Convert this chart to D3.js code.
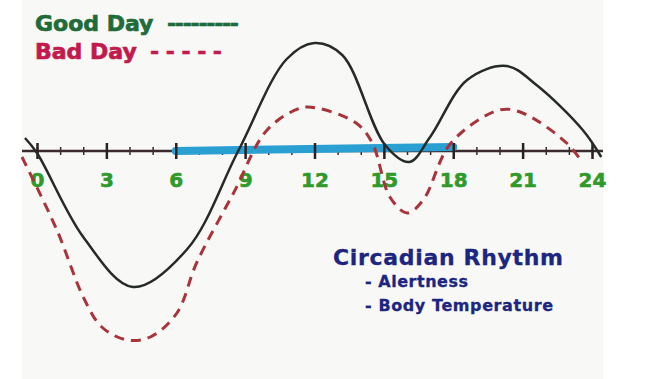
<!DOCTYPE html>
<html>
<head>
<meta charset="utf-8">
<script src="https://cdn.jsdelivr.net/npm/d3@7"></script>
<style>
  body { margin: 0; background: #fff; }
  text { font-family: "DejaVu Sans", sans-serif; font-weight: bold; }
</style>
</head>
<body>
<div id="chart"></div>
<script>
const width = 669, height = 379;

// hours of day (x) and level relative to the baseline (y)
const goodHours = [-0.52, 0, 2.0, 4.15, 6.5, 8.7, 10.8, 12.0, 13.2, 15.05, 16.1, 17.0, 18.6, 20.3, 21.6, 23.6, 24.4];
const goodLevel = [0.65, -0.1, -4.3, -6.8, -4.9, 0, 4.6, 5.4, 4.8, 0.3, -0.55, 0.7, 3.55, 4.25, 3.3, 1.05, -0.3];
const badHours = [-0.65, 0.86, 2.0, 2.8, 3.9, 4.9, 6.05, 6.9, 8.5, 9.95, 11.4, 12.1, 13.8, 14.5, 15.26, 16.0, 16.7, 17.9, 20.0, 21.0, 22.9, 23.6];
const badLevel = [-0.3, -3.95, -7.3, -8.8, -9.45, -9.3, -8.1, -5.6, -2.1, 1.05, 2.15, 2.15, 1.4, 0.4, -2.3, -3.1, -2.45, 0.4, 2.05, 1.9, 0.4, -0.6];
const majorTicks = [0, 3, 6, 9, 12, 15, 18, 21, 24];
const minorTicks = d3.range(0, 25);
const daySpan = [6, 18];
const legendLabels = ['Good Day', 'Bad Day'];
const legendDashes = ['---------', '- - - - -'];
const titleLines = ['Circadian Rhythm', '- Alertness', '- Body Temperature'];

const x = d3.scaleLinear().domain([0, 24]).range([37, 592]);
const y = d3.scaleLinear().domain([-10, 6]).range([351, 31]);

const svg = d3.select('#chart').append('svg')
    .attr('width', width).attr('height', height);

// paper
svg.append('rect').attr('x', 22).attr('y', 0).attr('width', 581).attr('height', height)
    .attr('fill', '#f8f8f7');

// axis baseline
const axisY = y(0);
svg.append('line').attr('x1', 22).attr('x2', 603).attr('y1', axisY).attr('y2', axisY)
    .attr('stroke', '#3b2b2e').attr('stroke-width', 2.5);

// minor ticks
const minor = svg.append('g').attr('transform', 'translate(0,' + axisY + ')')
    .call(d3.axisBottom(x).tickValues(minorTicks).tickSize(4).tickFormat(''));
minor.select('.domain').remove();
minor.selectAll('.tick line').attr('y1', -4).attr('stroke', '#3b2b2e').attr('stroke-width', 1.5);

// blue day span
svg.append('path')
    .datum(daySpan)
    .attr('d', d => d3.line()([[x(d[0]), axisY], [x(d[1]), axisY - 4]]))
    .attr('stroke', '#2a9fd2').attr('stroke-width', 8).attr('stroke-linecap', 'round').attr('fill', 'none');

// major ticks with labels
const major = svg.append('g').attr('transform', 'translate(0,' + axisY + ')')
    .call(d3.axisBottom(x).tickValues(majorTicks).tickSize(8).tickPadding(14));
major.select('.domain').remove();
major.selectAll('.tick line').attr('y1', -8).attr('stroke', '#2b2020').attr('stroke-width', 2.5);
major.selectAll('.tick text')
    .attr('font-family', '"DejaVu Sans", sans-serif').attr('font-weight', 'bold')
    .attr('font-size', 20).attr('fill', '#2f9a2a')
    .attr('stroke', '#2f9a2a').attr('stroke-width', 0.6);

const line = d3.line().x(d => x(d[0])).y(d => y(d[1])).curve(d3.curveCatmullRom.alpha(0.5));

// bad day (dashed)
svg.append('path')
    .datum(d3.zip(badHours, badLevel))
    .attr('d', line)
    .attr('fill', 'none').attr('stroke', '#a8333a').attr('stroke-width', 3)
    .attr('stroke-dasharray', '10,7');

// good day (solid)
svg.append('path')
    .datum(d3.zip(goodHours, goodLevel))
    .attr('d', line)
    .attr('fill', 'none').attr('stroke', '#262a28').attr('stroke-width', 2.5);

// legend
const legendColors = ['#1f6b3a', '#c21a4d'];
const legendY = [31, 59];
const dashX = [167, 150];
const dashW = [72, 72];
legendLabels.forEach((t, i) => {
  svg.append('text').attr('x', 35).attr('y', legendY[i]).attr('font-size', 22)
      .attr('fill', legendColors[i]).attr('stroke', legendColors[i]).attr('stroke-width', 0.7)
      .text(t);
  svg.append('text').attr('x', dashX[i]).attr('y', legendY[i]).attr('font-size', 22)
      .attr('textLength', dashW[i]).attr('lengthAdjust', 'spacing')
      .attr('fill', legendColors[i]).attr('stroke', legendColors[i]).attr('stroke-width', 0.6)
      .text(legendDashes[i]);
});

// title block
const titleX = [333, 365, 365];
const titleY = [265, 287, 311];
const titleSize = [22, 16, 16];
const titleLen = [230, 103, 188];
titleLines.forEach((t, i) => {
  svg.append('text').attr('x', titleX[i]).attr('y', titleY[i])
      .attr('font-size', titleSize[i]).attr('textLength', titleLen[i])
      .attr('fill', '#1c2580').attr('stroke', '#1c2580').attr('stroke-width', 0.3)
      .text(t);
});
</script>
</body>
</html>
